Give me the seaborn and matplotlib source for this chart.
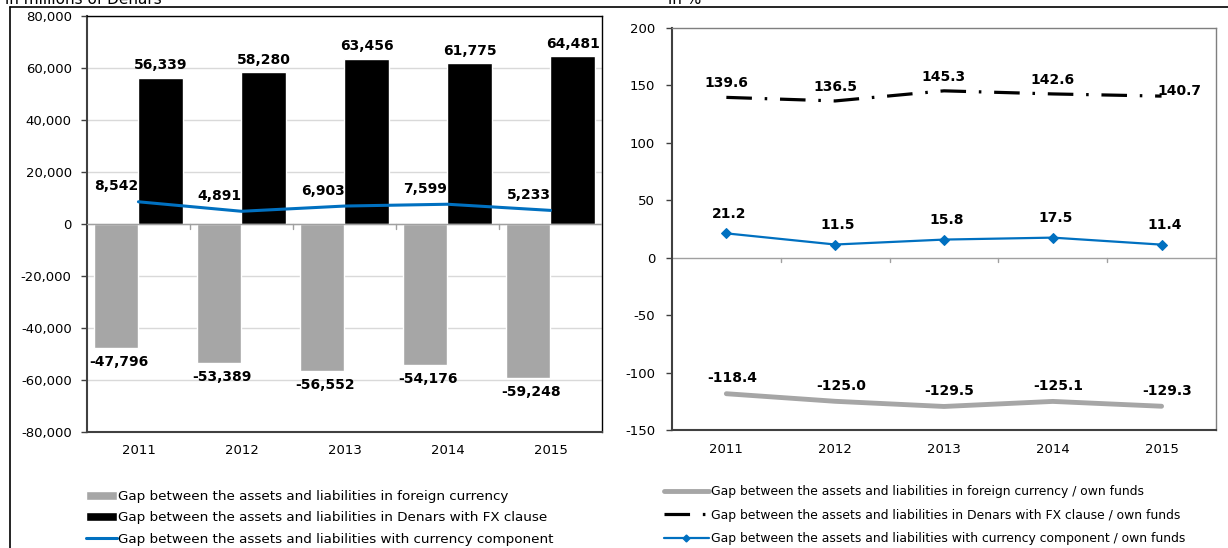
import numpy as np
import pandas as pd
import seaborn as sns
import matplotlib.pyplot as plt
from matplotlib.patches import Patch
from matplotlib.lines import Line2D
from matplotlib.ticker import FuncFormatter

# data
years = ["2011", "2012", "2013", "2014", "2015"]
gap_fx = [-47796, -53389, -56552, -54176, -59248]
gap_fx_clause = [56339, 58280, 63456, 61775, 64481]
gap_currency = [8542, 4891, 6903, 7599, 5233]

ratio_fx = [-118.4, -125.0, -129.5, -125.1, -129.3]
ratio_fx_clause = [139.6, 136.5, 145.3, 142.6, 140.7]
ratio_currency = [21.2, 11.5, 15.8, 17.5, 11.4]

lbl_fx = "Gap between the assets and liabilities in foreign currency"
lbl_clause = "Gap between the assets and liabilities in Denars with FX clause"
lbl_curr = "Gap between the assets and liabilities with currency component"

GRAY = "#a6a6a6"
BLUE = "#0070c0"
AXIS = "#404040"

sns.set_style("white")
plt.rcParams["font.family"] = ["DejaVu Sans"]
plt.rcParams["text.color"] = "black"
plt.rcParams["xtick.color"] = "black"
plt.rcParams["ytick.color"] = "black"
plt.rcParams["axes.unicode_minus"] = False

fig = plt.figure(figsize=(12.28, 5.48), dpi=100)
ax1 = fig.add_axes([0.0708, 0.2117, 0.4194, 0.7591])
ax2 = fig.add_axes([0.5472, 0.2153, 0.4430, 0.7336])
x = np.arange(len(years))

# === left: bars + line ===
bars = pd.DataFrame({
    "year": years * 2,
    "value": gap_fx + gap_fx_clause,
    "series": [lbl_fx] * len(years) + [lbl_clause] * len(years),
})
sns.barplot(data=bars, x="year", y="value", hue="series", palette=[GRAY, "black"],
            width=0.86, gap=0, saturation=1, legend=False, ax=ax1, zorder=2)
sns.lineplot(x=x, y=gap_currency, color=BLUE, lw=2.2, ax=ax1, zorder=4)

ax1.set_xlim(-0.5, 4.5)
ax1.set_ylim(-80000, 80000)
ax1.set_yticks(range(-80000, 80001, 20000))
ax1.yaxis.set_major_formatter(FuncFormatter(lambda v, p: f"{v:,.0f}"))
ax1.set_axisbelow(True)
ax1.yaxis.grid(True, color="#d9d9d9", lw=1)
ax1.axhline(0, color="#a0a0a0", lw=1, zorder=3)
for b in np.arange(0.5, 4.5, 1):
    ax1.plot([b, b], [0, -1800], color="#a0a0a0", lw=1, zorder=3)
ax1.set_xlabel("")
ax1.set_ylabel("")
ax1.tick_params(axis="y", length=4, color=AXIS, width=1, labelsize=9.5, left=True, pad=7)
ax1.tick_params(axis="x", length=0, labelsize=9.5, pad=9)
for s in ax1.spines.values():
    s.set_color("black")
    s.set_linewidth(1)
ax1.spines["left"].set_color(AXIS)
ax1.spines["left"].set_linewidth(1.5)
ax1.spines["bottom"].set_color(AXIS)
ax1.spines["bottom"].set_linewidth(1.5)

off = 0.86 / 4
for i in range(len(years)):
    ax1.annotate(f"{gap_fx_clause[i]:,}", (i + off, gap_fx_clause[i]), xytext=(0, 4),
                 textcoords="offset points", ha="center", va="bottom",
                 fontsize=10, fontweight="bold")
    ax1.annotate(f"{gap_fx[i]:,}", (i - off, gap_fx[i]), xytext=(2, -5),
                 textcoords="offset points", ha="center", va="top",
                 fontsize=10, fontweight="bold")
    ax1.annotate(f"{gap_currency[i]:,}", (i, gap_currency[i]), xytext=(0, 6),
                 textcoords="offset points", ha="right", va="bottom",
                 fontsize=10, fontweight="bold", zorder=5)

# === right: ratios to own funds ===
sns.lineplot(x=x, y=ratio_fx, color=GRAY, lw=3.5, ax=ax2, zorder=3)
sns.lineplot(x=x, y=ratio_fx_clause, color="black", lw=2.3, ax=ax2, zorder=3,
             linestyle=(0, (8, 4, 0.8, 4)))
sns.lineplot(x=x, y=ratio_currency, color=BLUE, lw=1.6, marker="D", markersize=5,
             markeredgecolor=BLUE, ax=ax2, zorder=3)

ax2.set_xlim(-0.5, 4.5)
ax2.set_ylim(-150, 200)
ax2.set_yticks(range(-150, 201, 50))
ax2.set_xticks(x)
ax2.set_xticklabels(years)
ax2.axhline(0, color="#a0a0a0", lw=1, zorder=2)
for b in np.arange(0.5, 4.5, 1):
    ax2.plot([b, b], [0, -4], color="#a0a0a0", lw=1, zorder=2)
ax2.tick_params(axis="y", length=4, color=AXIS, width=1, labelsize=9.5, left=True, pad=8)
ax2.tick_params(axis="x", length=0, labelsize=9.5, pad=9)
for s in ax2.spines.values():
    s.set_color("#7f7f7f")
    s.set_linewidth(1)
ax2.spines["left"].set_color(AXIS)
ax2.spines["left"].set_linewidth(1.5)
ax2.spines["bottom"].set_color(AXIS)
ax2.spines["bottom"].set_linewidth(1.5)

for i in range(len(years)):
    if i == len(years) - 1:
        ax2.annotate(f"{ratio_fx_clause[i]:.1f}", (i, ratio_fx_clause[i]), xytext=(-3, 4),
                     textcoords="offset points", ha="left", va="center",
                     fontsize=10, fontweight="bold")
    else:
        ax2.annotate(f"{ratio_fx_clause[i]:.1f}", (i, ratio_fx_clause[i]), xytext=(0, 5),
                     textcoords="offset points", ha="center", va="bottom",
                     fontsize=10, fontweight="bold")
    ax2.annotate(f"{ratio_currency[i]:.1f}", (i, ratio_currency[i]), xytext=(2, 9),
                 textcoords="offset points", ha="center", va="bottom",
                 fontsize=10, fontweight="bold")
    ax2.annotate(f"{ratio_fx[i]:.1f}", (i, ratio_fx[i]), xytext=(4, 6),
                 textcoords="offset points", ha="center", va="bottom",
                 fontsize=10, fontweight="bold")

# === legends ===
h1 = [Patch(facecolor=GRAY), Patch(facecolor="black"), Line2D([], [], color=BLUE, lw=2.2)]
fig.legend(h1, [lbl_fx, lbl_clause, lbl_curr], loc="upper left",
           bbox_to_anchor=(86 / 1228, 1 - 490 / 548), frameon=False, fontsize=9.7,
           handlelength=2.3, handletextpad=0.1, labelspacing=0.62,
           borderaxespad=0, borderpad=0)
h2 = [Line2D([], [], color=GRAY, lw=3.5),
      Line2D([], [], color="black", lw=2.3, linestyle=(0, (8, 4, 0.8, 4))),
      Line2D([], [], color=BLUE, lw=1.6, marker="D", markersize=3.5)]
fig.legend(h2, [lbl_fx + " / own funds", lbl_clause + " / own funds", lbl_curr + " / own funds"],
           loc="upper left", bbox_to_anchor=(664 / 1228, 1 - 485 / 548), frameon=False,
           fontsize=8.9, handlelength=3.6, handletextpad=0.2, labelspacing=0.85,
           borderaxespad=0, borderpad=0)

# === titles (cut at top, as in the source) and frame ===
fig.text(5 / 1228, 1 - 4 / 548, "in millions of Denars", fontsize=11, va="baseline")
fig.text(668 / 1228, 1 - 4 / 548, "in %", fontsize=11, va="baseline")
fig.add_artist(Line2D([10 / 1228, 1], [1 - 7 / 548] * 2, color="black", lw=1.2,
                      transform=fig.transFigure))
fig.add_artist(Line2D([10 / 1228] * 2, [0, 1 - 7 / 548], color="black", lw=1.2,
                      transform=fig.transFigure))

fig.savefig("out.png", dpi=100)
